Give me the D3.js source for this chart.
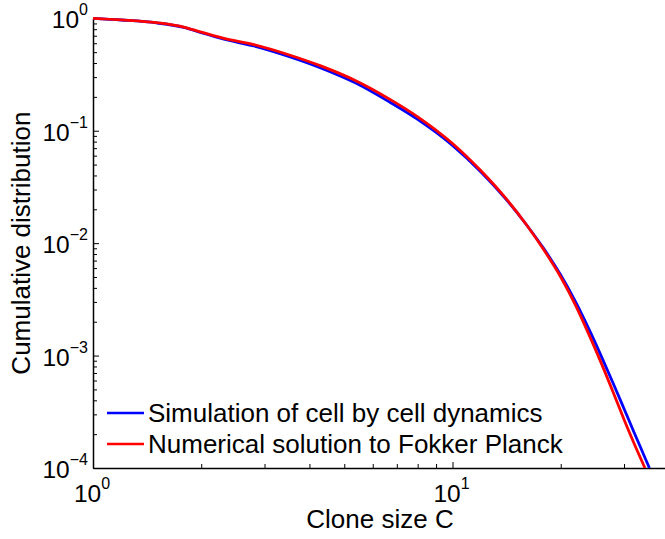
<!DOCTYPE html>
<html>
<head>
<meta charset="utf-8">
<script src="https://cdn.jsdelivr.net/npm/d3@7/dist/d3.min.js"></script>
<style>
  html, body { margin: 0; padding: 0; background: #fff; }
  svg { display: block; }
  text { font-family: "Liberation Sans", Arial, Helvetica, sans-serif; fill: #000; }
</style>
</head>
<body>
<svg id="chart" width="665" height="539"></svg>
<script>
// ---- data ----
const simC = [1, 1.2, 1.5, 1.8, 2, 2.3, 2.8, 3.5, 4.3, 5.4, 6.7, 8, 10, 12, 14, 16, 18, 20, 22, 24, 26, 28, 30, 32, 34, 35.3];
const simP = [1.0, 0.966, 0.91, 0.826, 0.745, 0.655, 0.567, 0.458, 0.362, 0.264, 0.179, 0.126, 0.074, 0.043, 0.0252, 0.0148, 0.0088, 0.0052, 0.0030, 0.00170, 0.00097, 0.000565, 0.000337, 0.000207, 0.000132, 0.0001];
const fpC  = [1, 1.2, 1.5, 1.8, 2, 2.3, 2.8, 3.5, 4.3, 5.4, 6.7, 8, 10, 12, 14, 16, 18, 20, 22, 24, 26, 28, 30, 32, 34.3];
const fpP  = [1.0, 0.968, 0.915, 0.832, 0.752, 0.666, 0.584, 0.474, 0.377, 0.277, 0.19, 0.133, 0.077, 0.044, 0.0255, 0.0148, 0.0086, 0.0050, 0.0028, 0.00152, 0.00084, 0.00047, 0.00027, 0.000165, 0.0001];
const seriesNames = ["Simulation of cell by cell dynamics", "Numerical solution to Fokker Planck"];
const seriesColors = ["#0000ff", "#ff0000"];
const xMajor = [1, 10];
const xMajorExp = ["0", "1"];
const xMinor = [2, 3, 4, 5, 6, 7, 8, 9, 20, 30, 40];
const yMajor = [1, 1e-1, 1e-2, 1e-3, 1e-4];
const yMajorExp = ["0", "\u22121", "\u22122", "\u22123", "\u22124"];
const yMinor = [];
[1e-4, 1e-3, 1e-2, 1e-1].forEach(d => { for (let k = 2; k <= 9; k++) yMinor.push(d * k); });

// ---- layout ----
const svg = d3.select("#chart");
const mLeft = 93, mTop = 18.3, mBottom = 468;
const decadeX = 359.5;
const x = d3.scaleLog().domain([1, 40]).range([mLeft, mLeft + decadeX * Math.log10(40)]);
const y = d3.scaleLog().domain([1e-4, 1]).range([mBottom, mTop]);

svg.append("clipPath").attr("id", "clip").append("rect")
  .attr("x", mLeft).attr("y", mTop - 3).attr("width", 665 - mLeft).attr("height", mBottom - mTop + 3);

// axes (ticks point inwards)
const gx = svg.append("g").attr("transform", `translate(0,${mBottom})`);
gx.call(d3.axisBottom(x).tickValues(xMajor).tickSize(-6).tickSizeOuter(0).tickFormat(""));
const gx2 = svg.append("g").attr("transform", `translate(0,${mBottom})`);
gx2.call(d3.axisBottom(x).tickValues(xMinor).tickSize(-4).tickSizeOuter(0).tickFormat(""));
gx2.select(".domain").remove();

const gy = svg.append("g").attr("transform", `translate(${mLeft},0)`);
gy.call(d3.axisLeft(y).tickValues(yMajor).tickSize(-6).tickSizeOuter(0).tickFormat(""));
const gy2 = svg.append("g").attr("transform", `translate(${mLeft},0)`);
gy2.call(d3.axisLeft(y).tickValues(yMinor).tickSize(-4).tickSizeOuter(0).tickFormat(""));
gy2.select(".domain").remove();

svg.selectAll(".domain").attr("stroke", "#000").attr("stroke-width", 1.5);
svg.selectAll(".tick line").attr("stroke", "#000").attr("stroke-width", 1);

// tick labels 10^n
xMajor.forEach((v, i) => {
  const t = svg.append("text").attr("x", x(v) - 1).attr("y", mBottom + 34)
    .attr("text-anchor", "middle").attr("font-size", 24.5);
  t.append("tspan").text("10");
  t.append("tspan").attr("dy", -13).attr("font-size", 16).text(xMajorExp[i]);
});
yMajor.forEach((v, i) => {
  const t = svg.append("text").attr("x", 88).attr("y", y(v) + 10)
    .attr("text-anchor", "end").attr("font-size", 24.5);
  t.append("tspan").text("10");
  t.append("tspan").attr("dy", -13).attr("font-size", 16).text(yMajorExp[i]);
});

// axis titles
svg.append("text").attr("x", 380).attr("y", 528).attr("text-anchor", "middle")
  .attr("font-size", 26).text("Clone size C");
svg.append("text").attr("transform", `translate(30,${(mTop + mBottom) / 2}) rotate(-90)`)
  .attr("text-anchor", "middle").attr("font-size", 26).text("Cumulative distribution");

// curves
const line = d3.line().x(d => x(d[0])).y(d => y(d[1])).curve(d3.curveMonotoneX);
const series = [d3.zip(simC, simP), d3.zip(fpC, fpP)];
const plot = svg.append("g").attr("clip-path", "url(#clip)");
series.forEach((s, i) => {
  plot.append("path").datum(s).attr("d", line)
    .attr("fill", "none").attr("stroke", seriesColors[i]).attr("stroke-width", 2.8)
    .attr("stroke-linejoin", "round");
});

// legend
const legY = [413, 444];
seriesNames.forEach((name, i) => {
  svg.append("line").attr("x1", 107).attr("x2", 144).attr("y1", legY[i]).attr("y2", legY[i])
    .attr("stroke", seriesColors[i]).attr("stroke-width", 2.5);
  svg.append("text").attr("x", 148).attr("y", legY[i] + 9).attr("font-size", 26).text(name);
});
</script>
</body>
</html>
